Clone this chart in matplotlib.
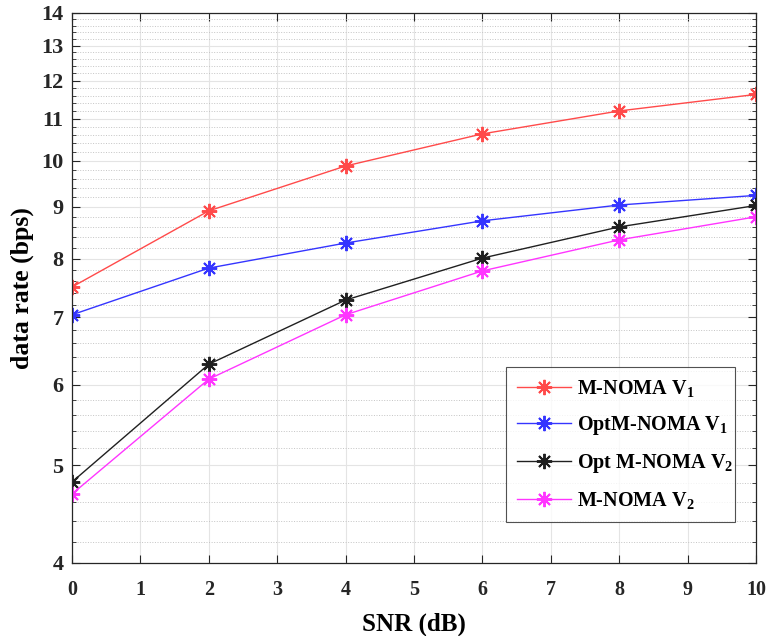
import numpy as np
import matplotlib.pyplot as plt
from matplotlib.ticker import FixedLocator, NullFormatter

plt.rcParams['font.family'] = ['Liberation Serif', 'DejaVu Serif']
plt.rcParams['font.weight'] = 'bold'
plt.rcParams['mathtext.fontset'] = 'custom'
plt.rcParams['mathtext.rm'] = 'Liberation Serif:bold'
plt.rcParams['mathtext.bf'] = 'Liberation Serif:bold'
plt.rcParams['mathtext.it'] = 'Liberation Serif:bold'

snr = [0, 2, 4, 6, 8, 10]
m_noma_v1 = [7.50, 8.92, 9.88, 10.63, 11.20, 11.63]
optm_noma_v1 = [7.04, 7.83, 8.29, 8.72, 9.04, 9.24]
opt_m_noma_v2 = [4.81, 6.29, 7.28, 8.01, 8.60, 9.03]
m_noma_v2 = [4.68, 6.08, 7.04, 7.78, 8.35, 8.80]

series = [
    (m_noma_v1, '#ff4a4a', r'M-NOMA V$_{1}$'),
    (optm_noma_v1, '#3535ff', r'OptM-NOMA V$_{1}$'),
    (opt_m_noma_v2, '#202020', r'Opt M-NOMA V$_{2}$'),
    (m_noma_v2, '#ff35ff', r'M-NOMA V$_{2}$'),
]

fig = plt.figure(figsize=(7.69, 6.36), dpi=100)
ax = fig.add_axes([0.0936, 0.1148, 0.8894, 0.8648])

# asterisk markers, plus and cross overlaid
for vals, col, lab in series:
    ax.plot(snr, vals, color=col, lw=1.0, marker=(8, 2, 0), markersize=11,
            markeredgewidth=1.4, label=lab)

ax.set_yscale('log')
ax.set_xlim(0, 10)
ax.set_ylim(4, 14)
ax.set_xticks(range(0, 11))
ax.yaxis.set_major_locator(FixedLocator(list(range(4, 15))))
ax.yaxis.set_minor_locator(FixedLocator([v for v in np.arange(4, 14.01, 0.2)
                                         if abs(v - round(v)) > 1e-6]))
ax.yaxis.set_major_formatter(plt.FuncFormatter(lambda v, p: '%d' % round(v)))
ax.yaxis.set_minor_formatter(NullFormatter())

ax.grid(True, which='major', color='#e4e4e4', lw=0.8, ls='-')
ax.grid(True, which='minor', axis='y', color='#c4c4c4', lw=0.7, ls=':')
ax.set_axisbelow(True)

ax.tick_params(which='both', direction='in', top=True, right=True,
               colors='#262626')
ax.tick_params(axis='x', labelsize=14.5, pad=12)
ax.tick_params(axis='y', labelsize=16, pad=6)
ax.tick_params(which='major', length=6, width=0.8)
ax.tick_params(which='minor', length=3, width=0.6)
for s in ax.spines.values():
    s.set_color('#262626')
    s.set_linewidth(0.9)

ax.set_xlabel('SNR (dB)', fontsize=18, fontweight='bold', labelpad=9)
ax.set_ylabel('data rate (bps)', fontsize=18.5, fontweight='bold', labelpad=5)

leg = ax.legend(loc='lower left', bbox_to_anchor=(0.634, 0.0745, 0.335, 0.28),
                mode='expand', borderaxespad=0, fontsize=14.5, frameon=True,
                fancybox=False, edgecolor='#262626', handlelength=2.7,
                handletextpad=0.3, labelspacing=0.75, borderpad=0.55)
leg.get_frame().set_linewidth(0.8)

fig.savefig('out.png', dpi=100)
